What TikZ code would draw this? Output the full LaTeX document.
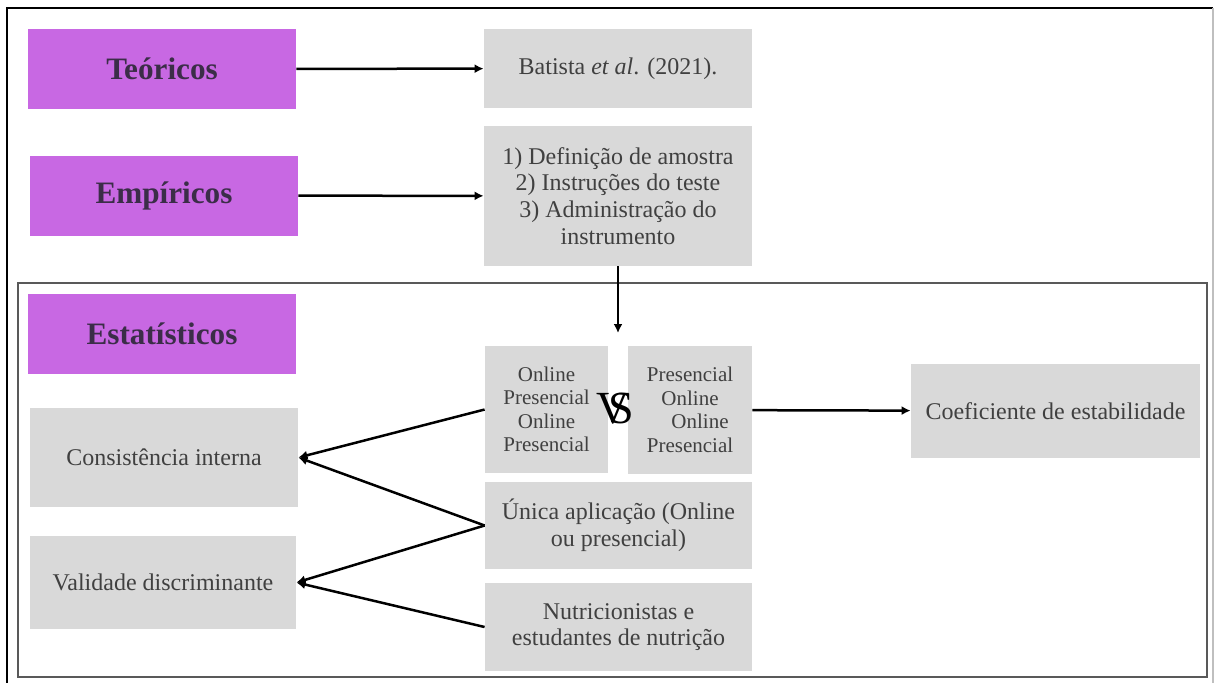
\documentclass[tikz,border=0pt]{standalone}
\usepackage{fontspec}
\setmainfont{Liberation Serif}
\usepackage{xcolor}
\usetikzlibrary{arrows.meta,calc,positioning}
\definecolor{roxo}{HTML}{C868E3}
\definecolor{roxotxt}{HTML}{3B2D48}
\definecolor{cinza}{HTML}{D9D9D9}
\definecolor{cinzatxt}{HTML}{404040}
\tikzset{%
	cat/.style      = {fill=roxo, text=roxotxt, inner sep=0pt, minimum width=134pt, minimum height=40pt, font=\bfseries\fontsize{15.6}{18}\selectfont}, % categoria
	block/.style    = {fill=cinza, text=cinzatxt, inner sep=0pt, align=center, font=\fontsize{12}{13.4}\selectfont}, % caixa
	small/.style    = {block, font=\fontsize{10.5}{11.75}\selectfont}, % ordem
	waypoint/.style = {coordinate},
	arrow/.style    = {line width=1.25pt,-{Latex[length=4.5pt,width=4.5pt]}},
}

\begin{document}
\begin{tikzpicture}[x=0.5pt,y=-0.5pt]
	\useasboundingbox (0,0) rectangle (1217,682);
	% molduras
	\draw[line width=0.9pt] (7,690) -- (7,8) -- (1213,8);
	\draw[black!25,line width=0.8pt] (1213,8) -- (1213,690);
	\draw[black!65,line width=1pt] (18,283) rectangle (1207,677);
	
	\node [cat] (teo) at (162,69) {Teóricos};
	\node [cat] (emp) at (164,195.5) {Empíricos};
	\node [cat] (est) at (162,334) {Estatísticos};
	
	\node [block, minimum width=134pt, minimum height=39.5pt] (bat) at (618,68.5) {Batista \textit{et al}. (2021).};
	\node [block, minimum width=134pt, minimum height=70pt] (passos) at (618,196) {1) Definição de amostra\\2) Instruções do teste\\3) Administração do\\instrumento};
	\node [waypoint] (wp) at (618,333) {};
	
	\node [small, minimum width=61.5pt, minimum height=63.5pt] (onl) at (546.5,409.5) {Online\\Presencial\\Online\\Presencial};
	\node [small, minimum width=62pt, minimum height=64pt] (pres) at (690,410) {Presencial\\Online\\\hspace*{10pt}Online\\Presencial};
	\node (vs) at (615,409) {\fontsize{23}{23}\selectfont V\kern-10.5pt S};
	\node [block, minimum width=133.5pt, minimum height=43.5pt] (unica) at (618.5,525.5) {Única aplicação (Online\\ou presencial)};
	\node [block, minimum width=133.5pt, minimum height=44pt] (nutri) at (618.5,627) {Nutricionistas e\\estudantes de nutrição};
	\node [block, minimum width=144.5pt, minimum height=47pt] (coef) at (1055.5,411) {Coeficiente de estabilidade};
	
	\node [block, minimum width=134pt, minimum height=49.5pt] (cons) at (164,457.5) {Consistência interna};
	\node [block, minimum width=133pt, minimum height=46.5pt] (vali) at (163,582.5) {Validade discriminante};
	
	\draw[arrow] (teo) -- (bat);
	\draw[arrow] (emp) -- (passos);
	\draw[arrow] (passos) -- (wp);
	\draw[arrow] (pres) -- (coef);
	\draw[arrow] (onl.west) -- (cons.east);
	\draw[arrow] (unica.west) -- (cons.east);
	\draw[arrow] (unica.west) -- (vali.east);
	\draw[arrow] (nutri.west) -- (vali.east);
\end{tikzpicture}
\end{document}
